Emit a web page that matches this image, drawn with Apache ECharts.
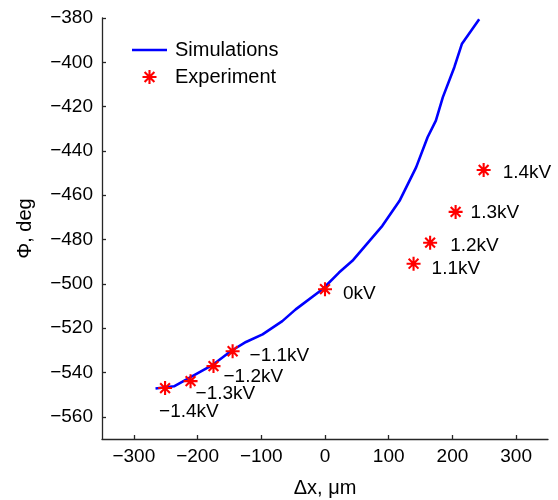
<!DOCTYPE html>
<html>
<head>
<meta charset="utf-8">
<script src="https://cdn.jsdelivr.net/npm/echarts@6/dist/echarts.min.js"></script>
<style>
  html, body { margin: 0; padding: 0; background: #fff; }
  #chart { width: 558px; height: 500px; }
</style>
</head>
<body>
<div id="chart"></div>
<script>
// simulation curve
const simX = [-266, -237, -213, -177, -148, -124, -98, -67, -46, -4, 22, 43, 90, 117, 143, 161, 174, 185, 203, 215, 242]
const simY = [-547.2, -546.2, -542.4, -536.7, -530.4, -526.2, -522.8, -516.8, -511.5, -502.4, -494.9, -489.6, -473.8, -462.5, -447.4, -433.8, -426.3, -415.7, -402.2, -391.6, -380.6]

// experiment points
const expNames = ['1.4kV', '1.3kV', '1.2kV', '1.1kV', '0kV', '\u22121.1kV', '\u22121.2kV', '\u22121.3kV', '\u22121.4kV']
const expX = [249, 205, 165, 139, 0, -145, -175, -211, -251]
const expY = [-448.6, -467.5, -481.4, -490.9, -502.4, -530.4, -537.1, -543.9, -547]

const xTicks = [-300, -200, -100, 0, 100, 200, 300]
const yTicks = [-560, -540, -520, -500, -480, -460, -440, -420, -400, -380]

// where each text label sits relative to its star (px)
const labelOffsets = [[19, 3], [15, 1], [20, 3], [18, 5], [18, 5], [17, 5], [10, 11], [5, 13], [-6, 24]]

const FONT = 'Liberation Sans'
const AXIS = '#262626'
// MATLAB style asterisk, built from four bars
const star = 'path://M0 8.5L20 8.5L20 11.5L0 11.5Z' +
  'M8.5 0L11.5 0L11.5 20L8.5 20Z' +
  'M4.06 1.94L18.06 15.94L15.94 18.06L1.94 4.06Z' +
  'M15.94 1.94L18.06 4.06L4.06 18.06L1.94 15.94Z'
// plain line for the legend (empty subpaths keep the 35x14 box)
const lineIcon = 'path://M0 5.7L35 5.7L35 8.3L0 8.3Z M0 0L0.01 0Z M0 14L0.01 14Z'

const minus = v => String(v).replace('-', '\u2212')

const chart = echarts.init(document.getElementById('chart'))
chart.setOption({
  animation: false,
  textStyle: { fontFamily: FONT, color: '#000' },
  grid: { left: 102, right: 10, top: 18, bottom: 61, outerBoundsMode: 'none' },
  legend: {
    orient: 'vertical',
    left: 132,
    top: 40,
    padding: 0,
    itemWidth: 35,
    itemHeight: 14,
    itemGap: 7,
    textStyle: { fontFamily: FONT, fontSize: 20, color: '#000', padding: [0, 0, 0, 3] },
    data: [{ name: 'Simulations', icon: lineIcon }, 'Experiment']
  },
  xAxis: {
    type: 'value',
    min: -350,
    max: 350,
    name: '\u0394x, \u03bcm',
    nameLocation: 'middle',
    nameGap: 39,
    nameTextStyle: { fontFamily: FONT, fontSize: 20, color: '#000' },
    axisLine: { onZero: false, lineStyle: { color: AXIS, width: 1.3 } },
    axisTick: { inside: true, length: 4, customValues: xTicks, lineStyle: { color: AXIS, width: 1.3 } },
    axisLabel: { customValues: xTicks, margin: 8, fontSize: 19, color: '#000', fontFamily: FONT, formatter: minus },
    splitLine: { show: false }
  },
  yAxis: {
    type: 'value',
    min: -570,
    max: -380,
    name: '\u03a6, deg',
    nameLocation: 'middle',
    nameGap: 67,
    nameTextStyle: { fontFamily: FONT, fontSize: 20, color: '#000' },
    axisLine: { show: true, onZero: false, lineStyle: { color: AXIS, width: 1.3 } },
    axisTick: { show: true, inside: true, length: 4, customValues: yTicks, lineStyle: { color: AXIS, width: 1.3 } },
    axisLabel: { customValues: yTicks, margin: 9, fontSize: 19, color: '#000', fontFamily: FONT, formatter: minus },
    splitLine: { show: false }
  },
  series: [
    {
      name: 'Simulations',
      type: 'line',
      symbol: 'none',
      z: 2,
      lineStyle: { color: '#0000ff', width: 2.6 },
      itemStyle: { color: '#0000ff' },
      data: simX.map((x, i) => [x, simY[i]])
    },
    {
      name: 'Experiment',
      type: 'scatter',
      symbol: star,
      symbolSize: 14,
      z: 3,
      itemStyle: { color: '#ff0000', opacity: 1 },
      data: expX.map((x, i) => ({
        name: expNames[i],
        value: [x, expY[i]],
        label: {
          show: true,
          position: 'inside',
          align: 'left',
          verticalAlign: 'middle',
          offset: labelOffsets[i],
          formatter: '{b}',
          fontFamily: FONT,
          fontSize: 19,
          color: '#000'
        }
      }))
    }
  ]
})
</script>
</body>
</html>
